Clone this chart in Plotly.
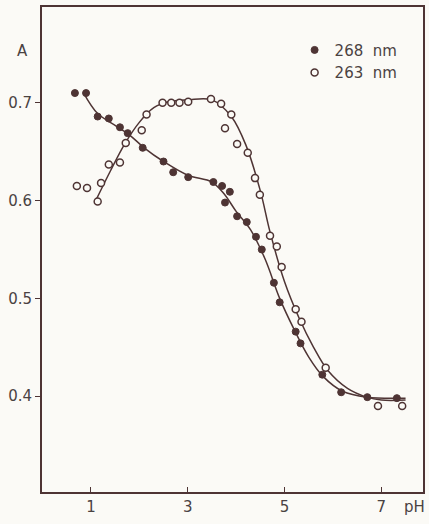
import plotly.graph_objects as go

# 268 nm (filled circles) measured points
ph_268 = [0.67, 0.90, 1.14, 1.37, 1.60, 1.76, 2.07, 2.50, 2.70, 3.01, 3.53, 3.71, 3.87, 3.77,
          4.02, 4.22, 4.41, 4.53, 4.78, 4.90, 5.23, 5.33, 5.78, 6.17, 6.71, 7.32]
a_268 = [0.710, 0.710, 0.686, 0.684, 0.675, 0.669, 0.654, 0.640, 0.629, 0.624, 0.619, 0.615, 0.609, 0.598,
         0.584, 0.578, 0.563, 0.550, 0.516, 0.496, 0.466, 0.454, 0.422, 0.404, 0.399, 0.398]

# 263 nm (open circles) measured points
ph_263 = [0.71, 0.92, 1.14, 1.21, 1.37, 1.60, 1.72, 2.05, 2.15, 2.48, 2.66, 2.83, 3.01, 3.48,
          3.69, 3.90, 3.77, 4.02, 4.24, 4.39, 4.49, 4.70, 4.84, 4.94, 5.23, 5.35, 5.85, 6.93, 7.43]
a_263 = [0.615, 0.613, 0.599, 0.618, 0.637, 0.639, 0.659, 0.672, 0.688, 0.700, 0.700, 0.700, 0.701, 0.704,
         0.699, 0.688, 0.674, 0.658, 0.649, 0.623, 0.606, 0.564, 0.553, 0.532, 0.489, 0.476, 0.429, 0.390, 0.390]

# smooth fitted curves
fit_ph_268 = [0.85, 1.14, 1.5, 1.8, 2.1, 2.5, 3.0, 3.5, 3.75, 4.0, 4.3, 4.6, 4.9, 5.2, 5.5, 5.8, 6.2, 6.7, 7.5]
fit_a_268 = [0.710, 0.689, 0.677, 0.667, 0.654, 0.640, 0.626, 0.619, 0.607, 0.589, 0.570, 0.540, 0.500, 0.468,
             0.440, 0.420, 0.405, 0.399, 0.398]
fit_ph_263 = [1.10, 1.4, 1.7, 2.0, 2.3, 2.6, 3.0, 3.5, 3.9, 4.2, 4.5, 4.7, 5.0, 5.3, 5.6, 5.9, 6.3, 6.7, 7.0, 7.5]
fit_a_263 = [0.600, 0.630, 0.658, 0.680, 0.695, 0.701, 0.703, 0.703, 0.686, 0.657, 0.610, 0.568, 0.517, 0.480,
             0.450, 0.426, 0.408, 0.399, 0.396, 0.396]

legend_names = ["268\u00a0\u00a0nm", "263\u00a0\u00a0nm"]
y_ticks = [0.4, 0.5, 0.6, 0.7]
x_ticks = [1, 3, 5, 7]

INK = "#4e3434"
TXT = "#4a4242"
BG = "#fbfaf6"

fig = go.Figure()
fig.add_trace(go.Scatter(x=fit_ph_268, y=fit_a_268, mode="lines", line=dict(color=INK, width=1.5, shape="spline"),
                         showlegend=False, hoverinfo="skip"))
fig.add_trace(go.Scatter(x=fit_ph_263, y=fit_a_263, mode="lines", line=dict(color=INK, width=1.5, shape="spline"),
                         showlegend=False, hoverinfo="skip"))
fig.add_trace(go.Scatter(x=ph_268, y=a_268, mode="markers", name=legend_names[0],
                         marker=dict(symbol="circle", size=7, color=INK, line=dict(color=INK, width=1))))
fig.add_trace(go.Scatter(x=ph_263, y=a_263, mode="markers", name=legend_names[1],
                         marker=dict(symbol="circle", size=7, color=BG, line=dict(color=INK, width=1.5))))

fig.update_layout(
    width=429, height=524,
    margin=dict(l=42, r=4, t=7, b=32),
    paper_bgcolor=BG, plot_bgcolor=BG,
    font=dict(family="DejaVu Sans", size=15, color=TXT),
    showlegend=True,
    legend=dict(x=0.663, y=0.945, xanchor="left", yanchor="top", bgcolor="rgba(0,0,0,0)",
                font=dict(size=15), itemwidth=30, tracegroupgap=0),
    xaxis=dict(range=[-0.01, 7.86], tickvals=x_ticks, ticktext=[str(v) for v in x_ticks],
               showgrid=False, zeroline=False, showline=True, linecolor=INK, linewidth=2, mirror=True,
               ticks="inside", ticklen=5, tickcolor=INK),
    yaxis=dict(range=[0.302, 0.798], tickvals=y_ticks, ticktext=[f"{v:.1f}" for v in y_ticks],
               showgrid=False, zeroline=False, showline=True, linecolor=INK, linewidth=2, mirror=True,
               ticks="outside", ticklen=5, tickcolor=INK),
    annotations=[
        dict(text="A", xref="paper", yref="paper", x=-0.050, y=0.909, showarrow=False,
             xanchor="center", yanchor="middle", font=dict(size=15)),
        dict(text="pH", xref="paper", yref="paper", x=0.977, y=-0.031, showarrow=False,
             xanchor="center", yanchor="middle", font=dict(size=15)),
    ],
)

fig.write_html("out.html")
